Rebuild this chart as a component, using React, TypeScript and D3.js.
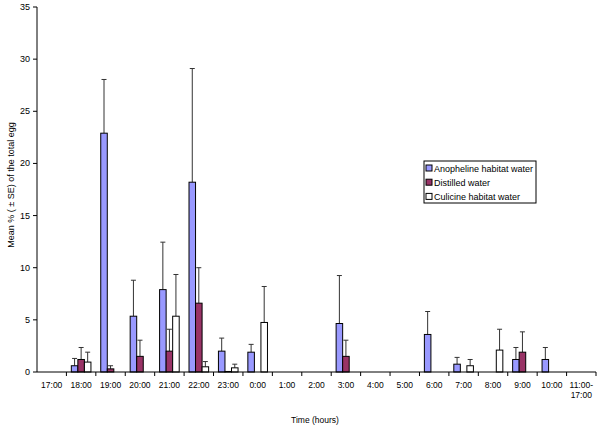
import React from "react";
import * as d3 from "d3";

const categories = ["17:00","18:00","19:00","20:00","21:00","22:00","23:00","0:00","1:00","2:00","3:00","4:00","5:00","6:00","7:00","8:00","9:00","10:00","11:00-17:00"];
const seriesNames = ["Anopheline habitat water","Distilled water","Culicine habitat water"];
const anophelineMean = [0,0.6,22.9,5.35,7.9,18.2,2.0,1.9,0,0,4.65,0,0,3.6,0.75,0,1.2,1.2,0];
const anophelineSE   = [0,0.7,5.15,3.45,4.55,10.9,1.25,0.75,0,0,4.6,0,0,2.2,0.65,0,1.15,1.15,0];
const distilledMean  = [0,1.2,0.3,1.5,2.0,6.6,0.05,0,0,0,1.5,0,0,0,0,0,1.9,0,0];
const distilledSE    = [0,1.15,0.3,1.55,2.1,3.4,0,0,0,0,1.55,0,0,0,0,0,1.95,0,0];
const culicineMean   = [0,0.95,0,0,5.35,0.5,0.4,4.75,0,0,0,0,0,0,0.6,2.1,0,0,0];
const culicineSE     = [0,0.95,0,0,4.0,0.5,0.35,3.45,0,0,0,0,0,0,0.6,2.0,0,0,0];
const yTicks = [0,5,10,15,20,25,30,35];
const colors = ["#9999FF","#993366","#FFFFFF"];

export default function App() {
  const W = 600, H = 428;
  const x0 = 37, x1 = 596, yTop = 7, yBot = 372;
  const x = d3.scaleBand().domain(categories).range([x0, x1]).paddingInner(0).paddingOuter(0);
  const y = d3.scaleLinear().domain([0, 35]).range([yBot, yTop]);
  const step = x.bandwidth();
  const bw = step / 4.5;
  const means = [anophelineMean, distilledMean, culicineMean];
  const ses = [anophelineSE, distilledSE, culicineSE];
  const font = "Liberation Sans, Arial, sans-serif";

  return (
    <svg width={W} height={H} style={{ position: "absolute", left: 0, top: 0, background: "#fff" }}>
      <rect x={0} y={0} width={W} height={H} fill="#fff" />
      {categories.map((c, i) => {
        const cx = (x(c) as number) + step / 2;
        return means.map((m, s) => {
          const v = m[i];
          if (!v) return null;
          const bx = cx - 1.5 * bw + s * bw;
          const top = y(v);
          const e = ses[s][i];
          const mid = bx + bw / 2;
          return (
            <g key={c + s}>
              {e > 0 && (
                <g stroke="#333" strokeWidth={1}>
                  <line x1={mid} x2={mid} y1={top} y2={y(v + e)} />
                  <line x1={mid - 2.5} x2={mid + 2.5} y1={y(v + e)} y2={y(v + e)} />
                </g>
              )}
              <rect x={bx} y={top} width={bw} height={yBot - top} fill={colors[s]} stroke="#000" strokeWidth={1} />
            </g>
          );
        });
      })}
      <line x1={x0} x2={x0} y1={yTop} y2={yBot} stroke="#000" />
      {yTicks.map((t) => (
        <g key={t}>
          <line x1={x0 - 4} x2={x0} y1={y(t)} y2={y(t)} stroke="#000" />
          <text x={x0 - 7} y={y(t) + 3} textAnchor="end" fontSize={9} fontFamily={font} fill="#000">{t}</text>
        </g>
      ))}
      <line x1={x0} x2={x1} y1={yBot} y2={yBot} stroke="#000" />
      {categories.map((c) => (
        <line key={"t" + c} x1={(x(c) as number) + step} x2={(x(c) as number) + step} y1={yBot} y2={yBot + 4} stroke="#000" />
      ))}
      {categories.map((c) => {
        const cx = (x(c) as number) + step / 2;
        if (c === "11:00-17:00") {
          return (
            <text key={"l" + c} x={cx} y={388} textAnchor="middle" fontSize={8.5} fontFamily={font} fill="#000">
              <tspan x={cx} dy={0}>11:00-</tspan>
              <tspan x={cx} dy={10}>17:00</tspan>
            </text>
          );
        }
        return <text key={"l" + c} x={cx} y={388} textAnchor="middle" fontSize={8.5} fontFamily={font} fill="#000">{c}</text>;
      })}
      <text x={315} y={423} textAnchor="middle" fontSize={8.5} fontFamily={font} fill="#000">Time (hours)</text>
      <text transform="translate(14,185) rotate(-90)" textAnchor="middle" fontSize={9} fontFamily={font} fill="#000">Mean % ( ± SE) of the total egg</text>
      <rect x={424} y={161} width={112} height={42} fill="#fff" stroke="#000" strokeWidth={1} />
      {seriesNames.map((n, i) => (
        <g key={n}>
          <rect x={426} y={165 + i * 14.2} width={6} height={6} fill={colors[i]} stroke="#000" strokeWidth={1} />
          <text x={434} y={171.5 + i * 14.2} fontSize={9} fontFamily={font} fill="#000">{n}</text>
        </g>
      ))}
    </svg>
  );
}
